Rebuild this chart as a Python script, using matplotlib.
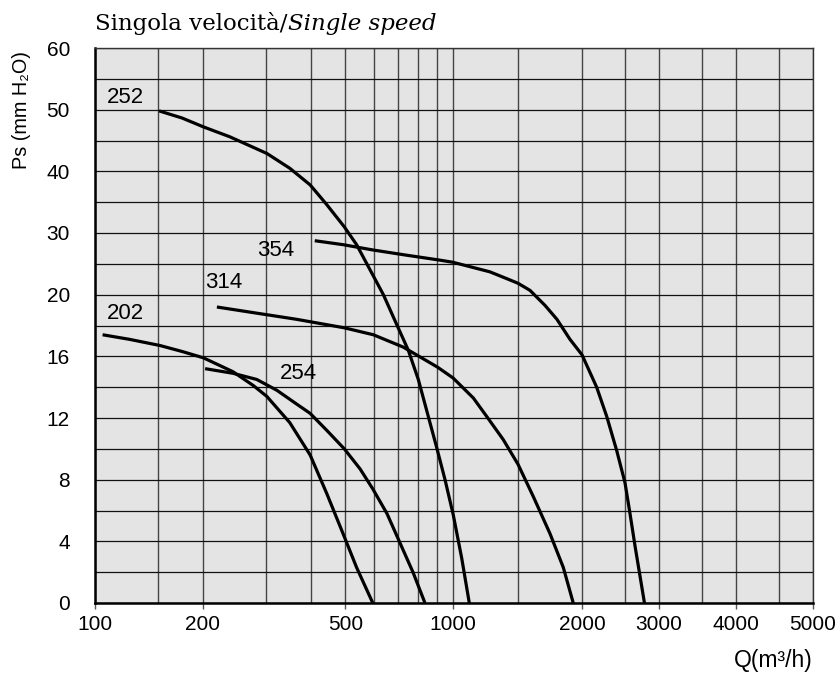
import numpy as np
import matplotlib
matplotlib.use('agg')
import matplotlib.pyplot as plt
from matplotlib.ticker import FixedLocator, FixedFormatter

plt.rcParams['font.family'] = ['Liberation Sans', 'DejaVu Sans']

# fan curves, Q in m3/h, Ps in mm H2O
q_252 = [151, 175, 201, 238, 302, 350, 399, 444, 497, 538, 597, 639, 692, 750,
         800, 844, 900, 950, 1002, 1056, 1107]
p_252 = [49.8, 48.65, 47.2, 45.6, 42.9, 40.5, 37.8, 34.6, 31.0, 28.1, 23.2, 20.0,
         18.2, 16.4, 14.5, 12.5, 10.1, 8.0, 5.7, 2.9, 0]

q_354 = [411, 494, 597, 742, 919, 1000, 1135, 1259, 1398, 1500, 1583, 1694, 1787,
         1895, 2000, 2158, 2274, 2394, 2500, 2568, 2638, 2775]
p_354 = [28.75, 28.1, 27.25, 26.4, 25.6, 25.25, 24.4, 23.7, 22.6, 21.85, 20.7, 19.3,
         18.4, 17.1, 16.1, 14.0, 12.1, 9.9, 7.8, 5.8, 3.7, 0]

q_314 = [219, 283, 366, 497, 599, 726, 905, 1000, 1135, 1234, 1368, 1500, 1607,
         1732, 1839, 1923]
p_314 = [19.2, 18.8, 18.4, 17.85, 17.4, 16.6, 15.3, 14.6, 13.3, 12.1, 10.6, 9.0,
         6.9, 4.5, 2.3, 0]

q_202 = [105, 125, 152, 176, 201, 243, 277, 302, 350, 399, 444, 497, 538, 597]
p_202 = [17.4, 17.1, 16.7, 16.3, 15.9, 15.0, 14.1, 13.4, 11.7, 9.6, 7.1, 4.3, 2.3, 0]

q_254 = [203, 243, 283, 322, 366, 399, 444, 497, 550, 597, 654, 711, 773, 835]
p_254 = [15.2, 14.9, 14.5, 13.8, 12.9, 12.3, 11.2, 10.0, 8.7, 7.4, 5.8, 3.9, 2.0, 0]

curve_names = ["252", "354", "314", "202", "254"]
curve_q = [q_252, q_354, q_314, q_202, q_254]
curve_p = [p_252, p_354, p_314, p_202, p_254]
label_q = [108, 283, 203, 108, 328]
label_p = [52.0, 27.1, 21.9, 18.8, 14.9]

x_major = [100, 200, 500, 1000, 2000, 3000, 4000, 5000]
x_minor = [150, 300, 400, 600, 700, 800, 900, 1500, 2500, 3500, 4500]
y_major = [0, 4, 8, 12, 16, 20, 30, 40, 50, 60]
y_minor = [2, 6, 10, 14, 18, 25, 35, 45, 55]

# the paper chart uses a bent axis: log up to 1000, stretched chunks after
x_knots = np.log10([100, 1000, 1500, 2000, 2500, 3000, 3500, 4000, 4500, 5000])
x_steps = [0, 358, 423, 487, 530, 564, 607, 641, 684, 718]
y_knots = [0, 20, 60]
y_steps = [0, 10, 18]

def x_fwd(v):
    return np.interp(np.log10(np.clip(v, 1e-6, None)), x_knots, x_steps)

def x_inv(p):
    return 10 ** np.interp(p, x_steps, x_knots)

def y_fwd(v):
    return np.interp(v, y_knots, y_steps)

def y_inv(p):
    return np.interp(p, y_steps, y_knots)

fig = plt.figure(figsize=(8.36, 6.79), dpi=100)
ax = fig.add_axes([95 / 836, 1 - 603 / 679, 718 / 836, 555 / 679])
ax.set_facecolor('#e4e4e4')
ax.set_xscale('function', functions=(x_fwd, x_inv))
ax.set_yscale('function', functions=(y_fwd, y_inv))
ax.set_xlim(100, 5000)
ax.set_ylim(0, 60)

ax.xaxis.set_major_locator(FixedLocator(x_major))
ax.xaxis.set_major_formatter(FixedFormatter([str(v) for v in x_major]))
ax.xaxis.set_minor_locator(FixedLocator(x_minor))
ax.yaxis.set_major_locator(FixedLocator(y_major))
ax.yaxis.set_major_formatter(FixedFormatter([str(v) for v in y_major]))
ax.yaxis.set_minor_locator(FixedLocator(y_minor))

ax.set_axisbelow(True)
ax.grid(True, which='both', axis='x', color='#444444', lw=1.0)
ax.grid(True, which='both', axis='y', color='#111111', lw=0.9)

ax.tick_params(axis='x', which='major', direction='out', length=4, width=1,
               color='#555555', pad=5, labelsize=15)
ax.tick_params(axis='x', which='minor', length=0)
ax.tick_params(axis='y', which='both', length=0, pad=18, labelsize=15)

for side in ['left', 'bottom']:
    ax.spines[side].set_linewidth(1.8)
    ax.spines[side].set_color('black')
for side in ['top', 'right']:
    ax.spines[side].set_linewidth(1.0)
    ax.spines[side].set_color('#333333')

for name, q, p, lx, ly in zip(curve_names, curve_q, curve_p, label_q, label_p):
    ax.plot(q, p, color='black', lw=2.3, solid_capstyle='butt',
            solid_joinstyle='round', zorder=3)
    ax.text(lx, ly, name, fontsize=16, ha='left', va='center', zorder=4)

fig.text(22 / 836, 1 - 110 / 679, "Ps (mm H\u2082O)", rotation=90,
         fontsize=14.3, ha='center', va='center')
fig.text(813 / 836, 1 - 660 / 679, "Q(m\u00b3/h)",
         fontsize=16.5, ha='right', va='center')

# title: plain part followed by the italic part
t1 = fig.text(95 / 836, 1 - 30 / 679, "Singola velocità/", fontsize=16.5,
              family='DejaVu Serif', ha='left', va='baseline')
fig.canvas.draw()
bb = t1.get_window_extent()
fig.text(bb.x1 / fig.bbox.width, 1 - 30 / 679, "Single speed", fontsize=16.5,
         family='DejaVu Serif', style='italic', ha='left', va='baseline')

plt.savefig('out.png', dpi=100)
plt.close(fig)
